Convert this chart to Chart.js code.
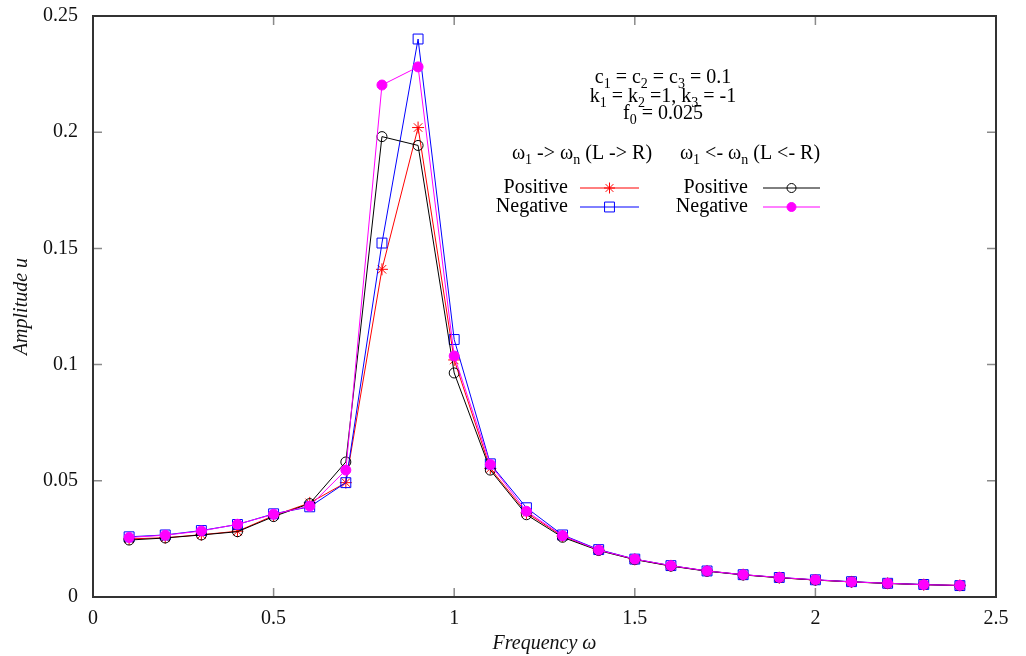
<!DOCTYPE html>
<html>
<head>
<meta charset="utf-8">
<script src="https://cdn.jsdelivr.net/npm/chart.js@4.4.1/dist/chart.umd.min.js"></script>
<style>
  html, body { margin: 0; padding: 0; background: #fff; }
  #wrap { width: 1026px; height: 656px; }
</style>
</head>
<body>
<div id="wrap"><canvas id="ampChart" width="1026" height="656"></canvas></div>
<script>
// Frequency sweep data
const freq = [0.1, 0.2, 0.3, 0.4, 0.5, 0.6, 0.7, 0.8, 0.9, 1.0, 1.1, 1.2,
              1.3, 1.4, 1.5, 1.6, 1.7, 1.8, 1.9, 2.0, 2.1, 2.2, 2.3, 2.4];

// w1 -> wn (L -> R)
const posLR = [0.0250, 0.0255, 0.0268, 0.0283, 0.0350, 0.0405, 0.0492, 0.1410, 0.2020, 0.1020, 0.0553, 0.0362,
               0.0262, 0.0202, 0.0162, 0.0134, 0.0112, 0.0096, 0.0083, 0.0073, 0.0065, 0.0059, 0.0053, 0.0050];
const negLR = [0.0259, 0.0267, 0.0286, 0.0312, 0.0358, 0.0388, 0.0492, 0.1523, 0.2401, 0.1108, 0.0573, 0.0384,
               0.0267, 0.0204, 0.0163, 0.0135, 0.0112, 0.0096, 0.0084, 0.0074, 0.0066, 0.0059, 0.0054, 0.0049];
// w1 <- wn (L <- R)
const posRL = [0.0245, 0.0254, 0.0267, 0.0281, 0.0346, 0.0402, 0.0581, 0.1981, 0.1943, 0.0964, 0.0546, 0.0354,
               0.0257, 0.0200, 0.0161, 0.0133, 0.0111, 0.0095, 0.0083, 0.0073, 0.0065, 0.0058, 0.0053, 0.0049];
const negRL = [0.0256, 0.0266, 0.0284, 0.0313, 0.0356, 0.0391, 0.0546, 0.2203, 0.2281, 0.1037, 0.0570, 0.0369,
               0.0264, 0.0202, 0.0163, 0.0135, 0.0112, 0.0096, 0.0084, 0.0074, 0.0065, 0.0059, 0.0053, 0.0050];

const xTicks = [0, 0.5, 1, 1.5, 2, 2.5];
const yTicks = [0, 0.05, 0.1, 0.15, 0.2, 0.25];

const FONT = "'Liberation Serif', 'DejaVu Serif', serif";
const TXT = 20;

function pts(vals) {
  return freq.map((f, i) => ({ x: f, y: vals[i] }));
}

// Draw text made of pieces, some of them subscripted
function richText(ctx, parts, cx, cy, size, align) {
  const subSize = Math.round(size * 0.72);
  let total = 0;
  parts.forEach(p => {
    ctx.font = (p.sub ? subSize : size) + 'px ' + FONT;
    p.w = ctx.measureText(p.t).width;
    total += p.w;
  });
  let x = align === 'right' ? cx - total : cx - total / 2;
  ctx.textAlign = 'left';
  ctx.textBaseline = 'middle';
  parts.forEach(p => {
    ctx.font = (p.sub ? subSize : size) + 'px ' + FONT;
    ctx.fillText(p.t, x, p.sub ? cy + size * 0.3 : cy);
    x += p.w;
  });
}

function S(str) {
  // "_" marks a single subscript char
  const parts = [];
  let buf = '';
  for (let i = 0; i < str.length; i++) {
    if (str[i] === '_') {
      if (buf) parts.push({ t: buf });
      buf = '';
      parts.push({ t: str[i + 1], sub: true });
      i++;
    } else buf += str[i];
  }
  if (buf) parts.push({ t: buf });
  return parts;
}

const frameAndLegend = {
  id: 'frameAndLegend',
  afterDraw(chart) {
    const { ctx, chartArea: a, scales } = chart;
    ctx.save();

    // inward ticks on all four sides (mirror ticks like gnuplot)
    ctx.strokeStyle = '#8a8a8a';
    ctx.lineWidth = 1.5;
    const tl = 9;
    ctx.beginPath();
    xTicks.forEach(v => {
      const px = scales.x.getPixelForValue(v);
      ctx.moveTo(px, a.bottom); ctx.lineTo(px, a.bottom - tl);
      ctx.moveTo(px, a.top); ctx.lineTo(px, a.top + tl);
    });
    yTicks.forEach(v => {
      const py = scales.y.getPixelForValue(v);
      ctx.moveTo(a.left, py); ctx.lineTo(a.left + tl, py);
      ctx.moveTo(a.right, py); ctx.lineTo(a.right - tl, py);
    });
    ctx.stroke();

    // frame
    ctx.strokeStyle = '#333';
    ctx.lineWidth = 2;
    ctx.strokeRect(a.left, a.top, a.right - a.left, a.bottom - a.top);

    // parameter text
    ctx.fillStyle = '#000';
    richText(ctx, S('c_1 = c_2 = c_3 = 0.1'), 663, 78, TXT);
    richText(ctx, S('k_1 = k_2 =1, k_3 = -1'), 663, 97, TXT);
    richText(ctx, S('f_0 = 0.025'), 663, 114, TXT);

    // legend headers
    richText(ctx, S('ω_1 -> ω_n (L -> R)'), 582, 154, TXT);
    richText(ctx, S('ω_1 <- ω_n (L <- R)'), 750, 154, TXT);

    // legend entries
    const entries = [
      { label: 'Positive', tx: 568, y: 188, x0: 580, x1: 639, ds: 0 },
      { label: 'Negative', tx: 568, y: 207, x0: 580, x1: 639, ds: 1 },
      { label: 'Positive', tx: 748, y: 188, x0: 763, x1: 820, ds: 2 },
      { label: 'Negative', tx: 748, y: 207, x0: 763, x1: 820, ds: 3 }
    ];
    entries.forEach(e => {
      const d = chart.data.datasets[e.ds];
      ctx.fillStyle = '#000';
      richText(ctx, [{ t: e.label }], e.tx, e.y, TXT, 'right');
      ctx.strokeStyle = d.borderColor;
      ctx.lineWidth = 1;
      ctx.beginPath();
      ctx.moveTo(e.x0, e.y); ctx.lineTo(e.x1, e.y);
      ctx.stroke();
      ctx.fillStyle = d.pointBackgroundColor;
      ctx.strokeStyle = d.pointBorderColor;
      ctx.lineWidth = 1;
      Chart.helpers.drawPoint(ctx, {
        pointStyle: d.pointStyle,
        radius: d.pointStyle === 'rect' ? 7 : (d.pointStyle === 'star' ? 5.5 : 4.5),
        borderWidth: 1,
        rotation: 0
      }, (e.x0 + e.x1) / 2, e.y);
    });

    ctx.restore();
  }
};

new Chart(document.getElementById('ampChart'), {
  type: 'line',
  data: {
    datasets: [
      {
        label: 'Positive (L -> R)',
        data: pts(posLR),
        borderColor: '#ff0000',
        borderWidth: 1,
        pointStyle: 'star',
        pointRadius: 6,
        pointBorderColor: '#ff0000',
        pointBackgroundColor: '#ff0000',
        pointBorderWidth: 1,
        order: 4
      },
      {
        label: 'Negative (L -> R)',
        data: pts(negLR),
        borderColor: '#0000ff',
        borderWidth: 1,
        pointStyle: 'rect',
        pointRadius: 7,
        pointBorderColor: '#0000ff',
        pointBackgroundColor: 'rgba(0,0,0,0)',
        pointBorderWidth: 1,
        order: 3
      },
      {
        label: 'Positive (L <- R)',
        data: pts(posRL),
        borderColor: '#000000',
        borderWidth: 1,
        pointStyle: 'circle',
        pointRadius: 5,
        pointBorderColor: '#000000',
        pointBackgroundColor: 'rgba(0,0,0,0)',
        pointBorderWidth: 1,
        order: 2
      },
      {
        label: 'Negative (L <- R)',
        data: pts(negRL),
        borderColor: '#ff00ff',
        borderWidth: 1,
        pointStyle: 'circle',
        pointRadius: 5,
        pointBorderColor: '#ff00ff',
        pointBackgroundColor: '#ff00ff',
        pointBorderWidth: 1,
        order: 1
      }
    ]
  },
  options: {
    responsive: false,
    animation: false,
    devicePixelRatio: 1,
    layout: { padding: { top: 16, right: 30, left: 0, bottom: 0 } },
    plugins: {
      legend: { display: false },
      tooltip: { enabled: false }
    },
    scales: {
      x: {
        type: 'linear',
        min: 0,
        max: 2.5,
        afterFit: s => { s.height = 59; s.paddingLeft = 0; s.paddingRight = 0; },
        afterBuildTicks: s => { s.ticks = xTicks.map(v => ({ value: v })); },
        grid: { display: false, drawTicks: false },
        border: { display: false },
        ticks: {
          color: '#111',
          padding: 10,
          font: { family: FONT, size: TXT },
          callback: v => String(+v.toFixed(2))
        },
        title: {
          display: true,
          text: 'Frequency ω',
          color: '#111',
          font: { family: FONT, size: TXT, style: 'italic' },
          padding: { top: 0, bottom: 0 }
        }
      },
      y: {
        min: 0,
        max: 0.25,
        afterFit: s => { s.width = 93; s.paddingTop = 0; s.paddingBottom = 0; },
        afterBuildTicks: s => { s.ticks = yTicks.map(v => ({ value: v })); },
        grid: { display: false, drawTicks: false },
        border: { display: false },
        ticks: {
          color: '#111',
          padding: 15,
          font: { family: FONT, size: TXT },
          callback: v => String(+v.toFixed(2))
        },
        title: {
          display: true,
          text: 'Amplitude u',
          color: '#111',
          font: { family: FONT, size: TXT, style: 'italic' },
          padding: { top: 10, bottom: 0 }
        }
      }
    }
  },
  plugins: [frameAndLegend]
});
</script>
</body>
</html>
